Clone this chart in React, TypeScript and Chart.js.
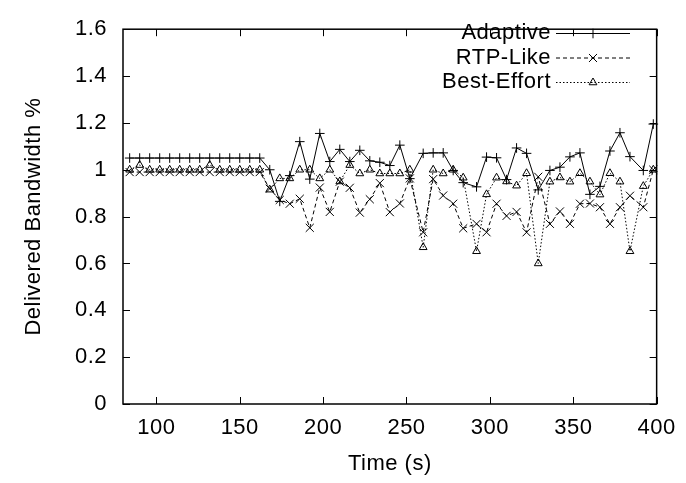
import { useEffect, useRef } from 'react';
import { Chart, registerables } from 'chart.js';

Chart.register(...registerables);

const times = [
  84, 90, 96, 102, 108, 114, 120, 126, 132, 138, 144, 150, 156, 162,
  168, 174, 180, 186, 192, 198, 204, 210, 216, 222, 228, 234, 240, 246, 252,
  260, 266, 272, 278, 284,
  292, 298, 304, 310, 316, 322,
  329, 336, 342, 348, 354, 360, 366, 372, 378, 384,
  392, 398,
];

const adaptive = [
  1.05, 1.05, 1.05, 1.05, 1.05, 1.05, 1.05, 1.05, 1.05, 1.05, 1.05, 1.05, 1.05, 1.05,
  1.0, 0.865, 0.975, 1.12, 0.96, 1.155, 1.035, 1.087, 1.035, 1.083, 1.038, 1.032, 1.018, 1.105, 0.962,
  1.07, 1.072, 1.072, 0.997, 0.945,
  0.927, 1.054, 1.051, 0.958, 1.093, 1.07,
  0.914, 0.997, 1.011, 1.055, 1.072, 0.895, 0.929, 1.08, 1.158, 1.056,
  0.997, 1.195,
];

const rtpLike = [
  0.99, 0.99, 0.99, 0.99, 0.99, 0.99, 0.99, 0.99, 0.99, 0.99, 0.99, 0.99, 0.99, 0.99,
  0.919, 0.871, 0.855, 0.876, 0.752, 0.924, 0.82, 0.949, 0.923, 0.817, 0.874, 0.943, 0.819, 0.856, 0.963,
  0.733, 0.96, 0.89, 0.855, 0.75,
  0.769, 0.733, 0.855, 0.803, 0.82, 0.733,
  0.97, 0.769, 0.822, 0.769, 0.855, 0.856, 0.84, 0.769, 0.84, 0.889,
  0.84, 1.0,
];

const bestEffort = [
  1.0, 1.02, 1.0, 1.0, 1.0, 1.0, 1.0, 1.0, 1.02, 1.0, 1.0, 1.0, 1.0, 1.0,
  0.915, 0.963, 0.963, 1.0, 1.0, 0.963, 1.0, 0.95, 1.02, 0.984, 1.0, 0.984, 0.984, 0.984, 1.0,
  0.669, 1.0, 0.984, 1.0, 0.966,
  0.652, 0.895, 0.966, 0.95, 0.932, 0.985,
  0.6, 0.949, 0.967, 0.949, 0.985, 0.949, 0.894, 0.985, 0.949, 0.652,
  0.93, 1.0,
];

const xTicks = [100, 150, 200, 250, 300, 350, 400];
const yTicks = [0, 0.2, 0.4, 0.6, 0.8, 1, 1.2, 1.4, 1.6];
const seriesNames = ['Adaptive', 'RTP-Like', 'Best-Effort'];
const xTitle = 'Time (s)';
const yTitle = 'Delivered Bandwidth %';

const FAMILY = "'Liberation Sans', Arial, Helvetica, sans-serif";
const FONT_SIZE = 22;
const LETTER_SPACING = '0.5px';

function drawMarker(ctx: CanvasRenderingContext2D, style: string, x: number, y: number, r: number) {
  ctx.beginPath();
  if (style === 'cross') {
    ctx.moveTo(x - r, y); ctx.lineTo(x + r, y);
    ctx.moveTo(x, y - r); ctx.lineTo(x, y + r);
  } else if (style === 'crossRot') {
    const d = r * Math.SQRT1_2;
    ctx.moveTo(x - d, y - d); ctx.lineTo(x + d, y + d);
    ctx.moveTo(x + d, y - d); ctx.lineTo(x - d, y + d);
  } else {
    const w = r * Math.sin(Math.PI / 3);
    ctx.moveTo(x, y - r);
    ctx.lineTo(x + w, y + r / 2);
    ctx.lineTo(x - w, y + r / 2);
    ctx.closePath();
  }
  ctx.stroke();
}

const spacingPlugin = {
  id: 'letterSpacing',
  beforeDraw(chart: any) {
    try { (chart.ctx as any).letterSpacing = LETTER_SPACING; } catch (e) { /* ignore */ }
  },
};

const framePlugin = {
  id: 'gnuFrame',
  afterDatasetsDraw(chart: any) {
    const { ctx, chartArea, scales } = chart;
    const { left, right, top, bottom } = chartArea;
    const xs = scales.x;
    const ys = scales.y;
    ctx.save();
    ctx.setLineDash([]);
    ctx.strokeStyle = '#000';
    ctx.lineWidth = 1;
    const tl = 7;
    ctx.beginPath();
    for (const v of xTicks) {
      const px = Math.round(xs.getPixelForValue(v)) + 0.5;
      ctx.moveTo(px, bottom); ctx.lineTo(px, bottom - tl);
      ctx.moveTo(px, top); ctx.lineTo(px, top + tl);
    }
    for (const v of yTicks) {
      const py = Math.round(ys.getPixelForValue(v)) + 0.5;
      ctx.moveTo(left, py); ctx.lineTo(left + tl, py);
      ctx.moveTo(right, py); ctx.lineTo(right - tl, py);
    }
    ctx.stroke();
    ctx.lineWidth = 1.5;
    ctx.strokeRect(left, top, right - left, bottom - top);

    // legend (gnuplot style: text right aligned, sample on the right)
    const textRight = 551;
    const lineStart = 556;
    const lineEnd = 630;
    const rowY = [33, 57.5, 82];
    ctx.font = `${FONT_SIZE}px ${FAMILY}`;
    try { (ctx as any).letterSpacing = LETTER_SPACING; } catch (e) { /* ignore */ }
    ctx.textAlign = 'right';
    ctx.textBaseline = 'middle';
    ctx.fillStyle = '#000';
    chart.data.datasets.forEach((ds: any, i: number) => {
      const y = rowY[i];
      ctx.fillText(seriesNames[i], textRight, y);
      ctx.lineWidth = 1;
      ctx.strokeStyle = '#000';
      ctx.setLineDash(ds.borderDash || []);
      ctx.beginPath();
      ctx.moveTo(lineStart, y + 0.5);
      ctx.lineTo(lineEnd, y + 0.5);
      ctx.stroke();
      ctx.setLineDash([]);
      drawMarker(ctx, ds.pointStyle, (lineStart + lineEnd) / 2, y + 0.5, ds.pointRadius);
    });
    ctx.restore();
  },
};

export default function App() {
  const ref = useRef<HTMLCanvasElement>(null);
  useEffect(() => {
    const canvas = ref.current;
    if (!canvas) return;
    const mk = (arr: number[]) => times.map((t, i) => ({ x: t, y: arr[i] }));
    const common = {
      borderColor: '#000',
      borderWidth: 1,
      pointBorderColor: '#000',
      pointBackgroundColor: 'rgba(0,0,0,0)',
      pointBorderWidth: 1,
      fill: false,
      tension: 0,
      clip: false as any,
    };
    const tickFont = { family: FAMILY, size: FONT_SIZE };
    const chart = new Chart(canvas, {
      type: 'line',
      data: {
        datasets: [
          { ...common, label: seriesNames[0], data: mk(adaptive), pointStyle: 'cross', pointRadius: 4.8 },
          { ...common, label: seriesNames[1], data: mk(rtpLike), pointStyle: 'crossRot', pointRadius: 5.7, borderDash: [4, 3] },
          { ...common, label: seriesNames[2], data: mk(bestEffort), pointStyle: 'triangle', pointRadius: 4.5, borderDash: [1.5, 2] },
        ],
      },
      options: {
        animation: false,
        responsive: false,
        maintainAspectRatio: false,
        layout: { padding: { left: 0, right: 26, top: 14, bottom: 0 } },
        plugins: { legend: { display: false }, tooltip: { enabled: false } },
        scales: {
          x: {
            type: 'linear',
            min: 80,
            max: 400,
            afterBuildTicks: (s: any) => { s.ticks = xTicks.map((v) => ({ value: v })); },
            afterFit: (s: any) => { s.height = 79; },
            grid: { display: false, drawTicks: false },
            border: { display: false },
            ticks: { padding: 11, color: '#000', font: tickFont, maxRotation: 0, autoSkip: false, callback: (v: any) => String(v) },
            title: { display: true, text: xTitle, color: '#000', font: tickFont, padding: { top: 0, bottom: 6 } },
          },
          y: {
            type: 'linear',
            min: 0,
            max: 1.6,
            afterBuildTicks: (s: any) => { s.ticks = yTicks.map((v) => ({ value: v })); },
            afterFit: (s: any) => { s.width = 123; },
            grid: { display: false, drawTicks: false },
            border: { display: false },
            ticks: { padding: 16, color: '#000', font: tickFont, autoSkip: false, callback: (v: any) => String(Math.round(Number(v) * 10) / 10) },
            title: { display: true, text: yTitle, color: '#000', font: tickFont, padding: { top: 21, bottom: 0 } },
          },
        },
      } as any,
      plugins: [spacingPlugin, framePlugin],
    });
    return () => chart.destroy();
  }, []);
  return (
    <div style={{ position: 'absolute', left: 0, top: 0, width: 686, height: 483, background: '#fff' }}>
      <canvas ref={ref} width={686} height={483} style={{ width: 686, height: 483, display: 'block' }} />
    </div>
  );
}
